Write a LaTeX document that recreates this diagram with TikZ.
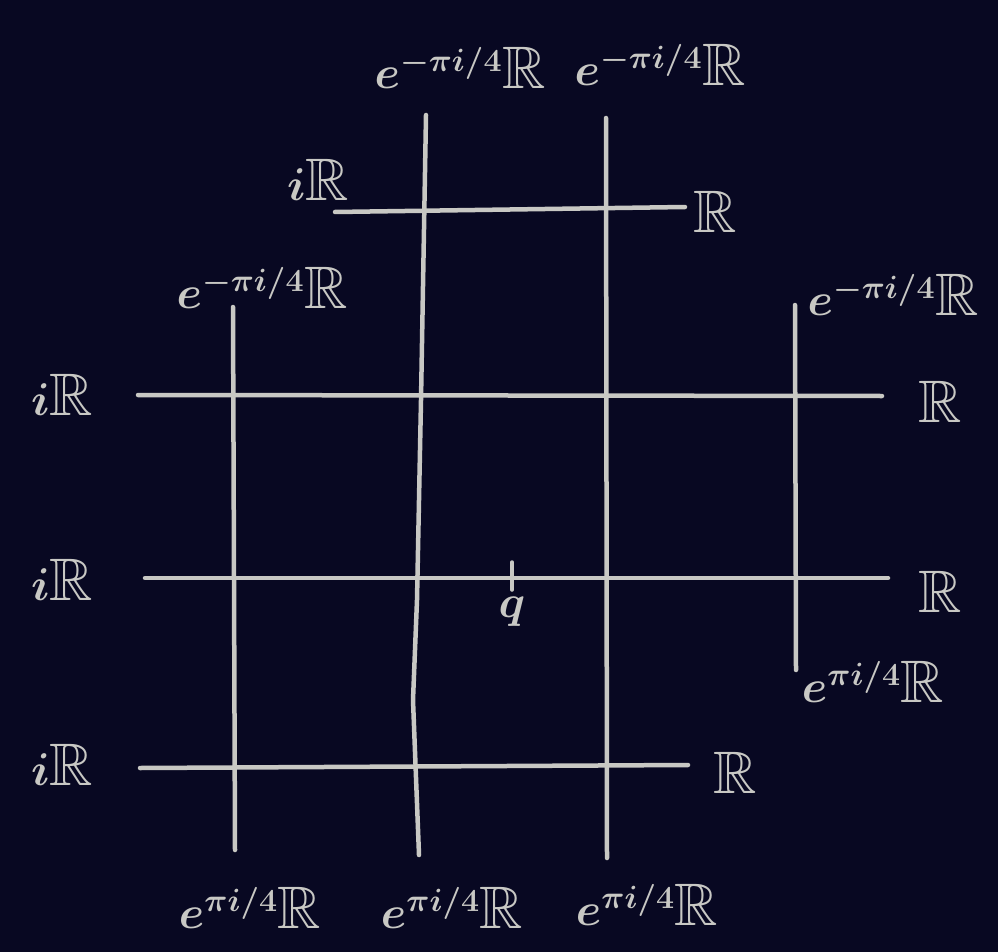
\RequirePackage{fix-cm}
\documentclass[tikz,border=0pt]{standalone}
\usepackage{amssymb}
\definecolor{bg}{RGB}{8,8,34}
\definecolor{chalk}{RGB}{200,200,196}
\newcommand{\bigR}{\hbox{\fontsize{60}{64}\selectfont$\mathbb{R}$}}
\begin{document}
\begin{tikzpicture}[x=1pt,y=-1pt,
  gridline/.style={draw=chalk,line width=4.5pt,line cap=round},
  lab/.style={text=chalk,font=\fontsize{46}{50}\selectfont\boldmath,inner sep=0pt}]
\fill[bg] (0,0) rectangle (998,952);
\useasboundingbox (0,0) rectangle (998,952);
% vertical line ends
\coordinate (v1t) at (233,307); \coordinate (v1b) at (235,850);
\coordinate (v2t) at (426,115); \coordinate (v2b) at (419,855);
\coordinate (v3t) at (606,118); \coordinate (v3b) at (607,858);
\coordinate (v4t) at (795,305); \coordinate (v4b) at (796,670);
% horizontal line ends
\coordinate (h1l) at (335,212); \coordinate (h1r) at (685,207);
\coordinate (h2l) at (138,395); \coordinate (h2r) at (882,396);
\coordinate (h3l) at (145,578); \coordinate (h3r) at (888,578);
\coordinate (h4l) at (140,768); \coordinate (h4r) at (688,765);
\coordinate (qt) at (512,562); \coordinate (qb) at (512,590);
\draw[gridline] (v1t) -- (v1b);
\draw[gridline] (v2t) -- (421,400) -- (417,600) -- (413,700) -- (v2b);
\draw[gridline] (v3t) -- (v3b);
\draw[gridline] (v4t) -- (v4b);
\draw[gridline] (h1l) -- (h1r);
\draw[gridline] (h2l) -- (h2r);
\draw[gridline] (h3l) -- (h3r);
\draw[gridline] (h4l) -- (h4r);
\draw[gridline,line width=3.5pt] (qt) -- (qb);
% labels
\node[lab] (tv2) at (460,68) {$e^{-\pi i/4}\bigR$};
\node[lab] (tv3) at (660,65) {$e^{-\pi i/4}\bigR$};
\node[lab] (tv1) at (262,288) {$e^{-\pi i/4}\bigR$};
\node[lab] (tv4) at (893,295) {$e^{-\pi i/4}\bigR$};
\node[lab] (bv1) at (250,908) {$e^{\pi i/4}\bigR$};
\node[lab] (bv2) at (452,908) {$e^{\pi i/4}\bigR$};
\node[lab] (bv3) at (647,905) {$e^{\pi i/4}\bigR$};
\node[lab] (bv4) at (873,682) {$e^{\pi i/4}\bigR$};
\node[lab] (lh1) at (318,180) {$i\bigR$};
\node[lab] (lh2) at (62,395) {$i\bigR$};
\node[lab] (lh3) at (62,580) {$i\bigR$};
\node[lab] (lh4) at (62,765) {$i\bigR$};
\node[lab] (rh1) at (715,212) {$\bigR$};
\node[lab] (rh2) at (940,402) {$\bigR$};
\node[lab] (rh3) at (940,592) {$\bigR$};
\node[lab] (rh4) at (735,773) {$\bigR$};
\node[lab,font=\fontsize{46}{50}\selectfont\boldmath] (q) at (512,612) {$q$};
\end{tikzpicture}
\end{document}
